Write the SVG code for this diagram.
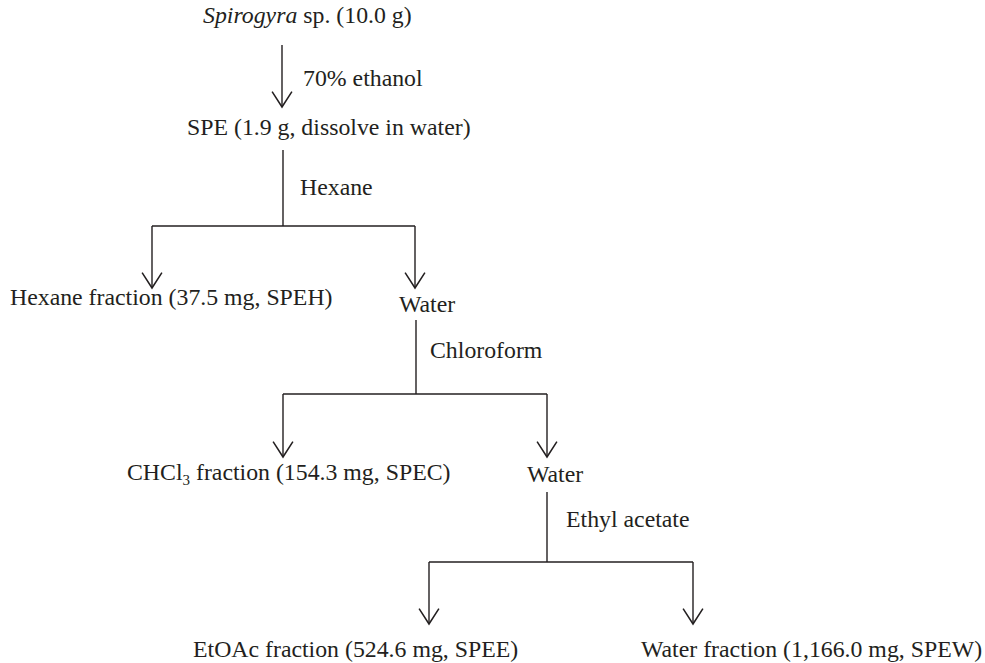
<svg xmlns="http://www.w3.org/2000/svg" width="985" height="663" viewBox="0 0 985 663">
<style>
text{font-family:"Liberation Serif","Times New Roman",serif;font-size:23.8px;fill:#231f20}
.ln{fill:none;stroke:#231f20;stroke-width:1.4}
</style>
<defs>
<marker id="ah" markerUnits="userSpaceOnUse" markerWidth="20" markerHeight="22" refX="15" refY="10" orient="auto" viewBox="0 0 16 20" overflow="visible">
<path d="M1,1 L15,10 L1,19" fill="none" stroke="#231f20" stroke-width="1.4"/>
</marker>
</defs>
<rect width="985" height="663" fill="#fff"/>
<g id="n1"><text x="203" y="23"><tspan font-style="italic">Spirogyra</tspan> sp. (10.0 g)</text></g>
<g id="n2"><text x="187" y="135">SPE (1.9 g, dissolve in water)</text></g>
<g id="n3"><text x="10" y="305">Hexane fraction (37.5 mg, SPEH)</text></g>
<g id="n4"><text x="399" y="312">Water</text></g>
<g id="n5"><text x="127" y="480">CHCl<tspan font-size="15" dy="5">3</tspan><tspan dy="-5"> fraction (154.3 mg, SPEC)</tspan></text></g>
<g id="n6"><text x="527" y="482">Water</text></g>
<g id="n7"><text x="193" y="657">EtOAc fraction (524.6 mg, SPEE)</text></g>
<g id="n8"><text x="641" y="657">Water fraction (1,166.0 mg, SPEW)</text></g>
<g id="labels">
<text x="303" y="86">70% ethanol</text>
<text x="300" y="195">Hexane</text>
<text x="430" y="358">Chloroform</text>
<text x="566" y="527">Ethyl acetate</text>
</g>
<g id="connectors">
<path class="ln" d="M282,45 V107" marker-end="url(#ah)"/>
<path class="ln" d="M283,150 V226"/>
<path class="ln" d="M152,226 H415"/>
<path class="ln" d="M152,226 V288" marker-end="url(#ah)"/>
<path class="ln" d="M415,226 V288" marker-end="url(#ah)"/>
<path class="ln" d="M416,320 V394"/>
<path class="ln" d="M283,394 H547"/>
<path class="ln" d="M283,394 V457" marker-end="url(#ah)"/>
<path class="ln" d="M547,394 V457" marker-end="url(#ah)"/>
<path class="ln" d="M547,492 V562"/>
<path class="ln" d="M429,562 H693"/>
<path class="ln" d="M429,562 V624" marker-end="url(#ah)"/>
<path class="ln" d="M693,562 V624" marker-end="url(#ah)"/>
</g>
</svg>
